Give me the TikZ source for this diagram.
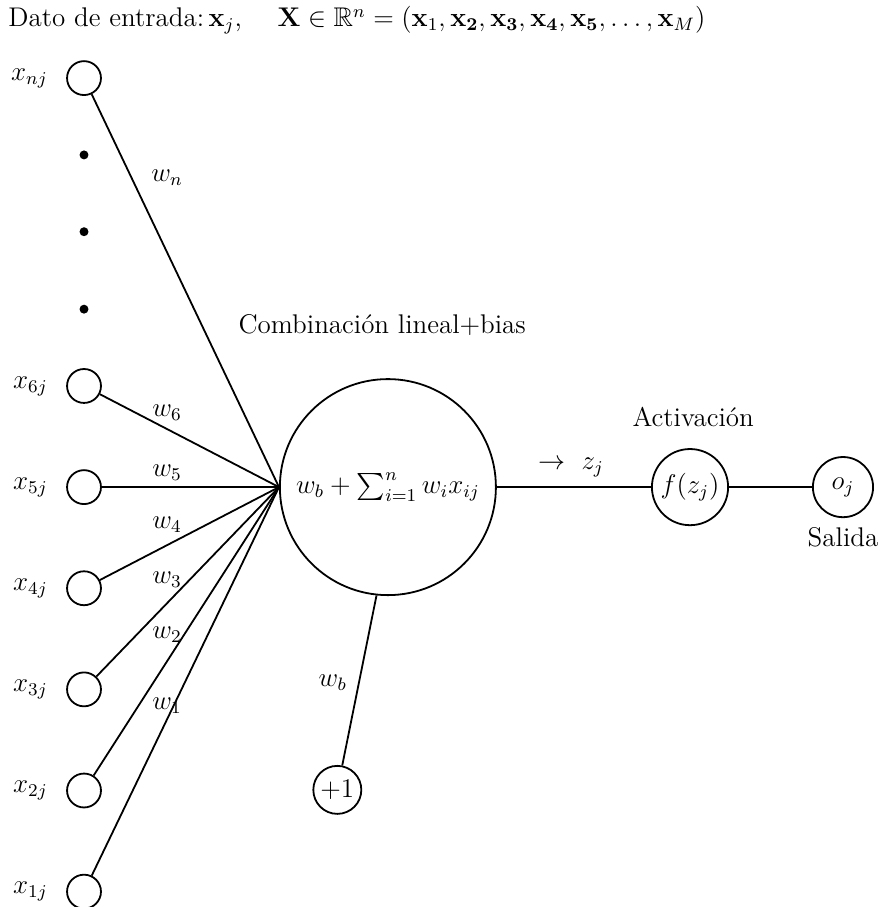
\documentclass[12pt,tikz,border=0pt]{standalone}
\usepackage{amsmath,amssymb}
\usepackage{tikz}
\usetikzlibrary{positioning}

\begin{document}
\begin{tikzpicture}[
  neuron/.style={draw,circle,thick,minimum size=5.3mm,inner sep=0pt},
  dotnode/.style={fill,circle,inner sep=0pt,minimum size=1.4mm},
  inlabel/.style={label distance=4pt},
  conn/.style={thick}
]
\useasboundingbox (0,0) rectangle (13.86,-14.17);
% header
\node[anchor=base west,inner sep=0pt] (title) at (0.125,-0.42)
  {Dato de entrada:\,$\mathbf{x}_j$, \quad $\mathbf{X}\in\mathbb{R}^n=(\mathbf{x}_1,\mathbf{x_2},\mathbf{x_3},\mathbf{x_4},\mathbf{x_5},\dots,\mathbf{x}_M)$};
% inputs
\node[neuron,label={[inlabel]left:$x_{nj}$}] (xn) at (1.3125,-1.22) {};
\foreach \i/\y in {6/-6.03,5/-7.61,4/-9.19,3/-10.77,2/-12.35,1/-13.93}
  \node[neuron,label={[inlabel]left:$x_{\i j}$}] (x\i) at (1.3125,\y) {};
\foreach \y [count=\k] in {-2.42,-3.62,-4.83}
  \node[dotnode] (dot\k) at (1.3125,\y) {};
% neuron
\node[neuron,minimum size=33.75mm] (sum) at (6.06,-7.61) {$w_b+\sum_{i=1}^{n} w_i x_{ij}$};
\node[neuron,minimum size=11.9mm] (act) at (10.78,-7.61) {$f(z_j)$};
\node[neuron,minimum size=9.4mm] (out) at (13.17,-7.61) {$o_j$};
\node[neuron,minimum size=7.5mm] (bias) at (5.27,-12.34) {$+1$};
% connectors
\foreach \i in {n,6,5,4,3,2,1}
  \draw[conn] (x\i) -- (sum.west);
\draw[conn] (sum) -- (act);
\draw[conn] (act) -- (out);
\draw[conn] (bias) -- (sum.264);
% labels
\foreach \w/\y in {n/-2.78,6/-6.45,5/-7.39,4/-8.20,3/-9.06,2/-9.92,1/-11.02}
  \node (lw\w) at (2.61,\y) {$w_{\w}$};
\node (lwb) at (5.20,-10.67) {$w_b$};
\node (lz) at (8.92,-7.31) {$\rightarrow\ z_j$};
\node[anchor=west] (lcomb) at (3.58,-5.08) {Combinación lineal+bias};
\node (lact) at (10.83,-6.52) {Activación};
\node (lout) at (13.17,-8.39) {Salida};
\end{tikzpicture}
\end{document}
